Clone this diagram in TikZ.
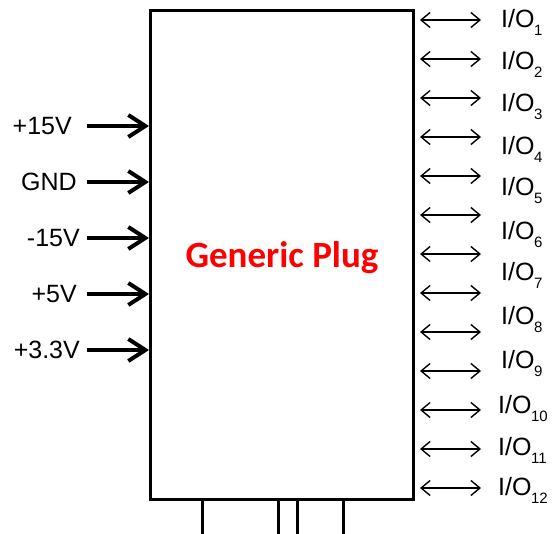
\documentclass[tikz,border=0pt]{standalone}
\usepackage{fontspec}
\setmainfont{Liberation Sans}
\newfontfamily\calibri{Carlito}
\usetikzlibrary{arrows.meta}
\newcommand{\iosub}[1]{\kern-0.5pt\raisebox{-8pt}{\fontsize{15}{16}\selectfont #1}}
\begin{document}
\begin{tikzpicture}[x=1pt,y=-1pt,
  every node/.style={font=\fontsize{25}{28}\selectfont},
  pwr/.style={line width=4pt,-{Straight Barb[length=17pt,width=22pt]}},
  iobus/.style={line width=1.4pt,{Straight Barb[length=9pt,width=15pt]}-{Straight Barb[length=9pt,width=15pt]}},
  pinline/.style={line width=3pt}]
  % Keep the page as large as the reference
  \useasboundingbox (0,0) rectangle (554,534);
  % The plug body
  \node[draw,line width=3pt,anchor=north west,inner sep=0pt,
        minimum width=263pt,minimum height=489pt] (plug) at (149,9) {};
  \node[font=\calibri\bfseries\fontsize{37}{40}\selectfont,text=red] (title)
    at ([yshift=-3pt]plug.center) {Generic Plug};
  % Supply inputs on the left
  \foreach \name/\txt/\y/\gap in {p15/+15V/126/15, gnd/GND/182/10, m15/-15V/238/7, p5/+5V/294/10, p33/+3.3V/350/7}{
    \node[anchor=east,inner xsep=\gap pt,inner ysep=0pt] (\name) at (87,\y) {\txt};
    \draw[pwr] (\name.east) -- (\name.east -| plug.west);
  }
  % I/O lines on the right
  \foreach \k in {0,...,12}{
    \coordinate (ioa\k) at (420,20+39*\k);
    \coordinate (iob\k) at (481,20+39*\k);
    \draw[iobus] (ioa\k) -- (iob\k);
  }
  \foreach \n/\y in {1/28, 2/70, 3/112, 4/155, 5/196, 6/240, 7/281, 8/325, 9/369}
    \node[anchor=base west,inner sep=0pt] (io\n) at (501,\y) {I/O\iosub{\n}};
  \foreach \n/\y in {10/413, 11/455, 12/495}
    \node[anchor=base west,inner sep=0pt] (io\n) at (498,\y) {I/O\iosub{\n}};
  % Pins below the plug
  \foreach \x in {202,278,297,343}
    \draw[pinline] (\x,498) -- (\x,534);
\end{tikzpicture}
\end{document}
